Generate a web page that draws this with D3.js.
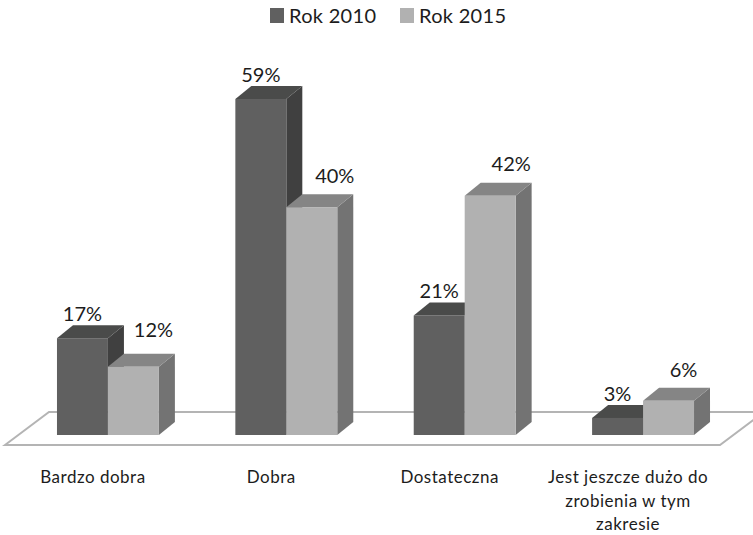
<!DOCTYPE html>
<html>
<head>
<meta charset="utf-8">
<script src="https://cdn.jsdelivr.net/npm/d3@7"></script>
<style>
  html, body { margin: 0; background: #fff; }
  text { font-family: Lato, "Open Sans", sans-serif; fill: #1c1c1c; }
</style>
</head>
<body>
<div id="chart"></div>
<script>
var categories = ["Bardzo dobra", "Dobra", "Dostateczna", "Jest jeszcze dużo do|zrobienia w tym|zakresie"];
var seriesNames = ["Rok 2010", "Rok 2015"];
var rok2010 = [17, 59, 21, 3];
var rok2015 = [12, 40, 42, 6];

var width = 753, height = 535;
var depth = {x: 16, y: 13};
var baseline = 435;

var colors = [
    {front: "#606060", top: "#4a4b4a", side: "#404040"},
    {front: "#b1b1b1", top: "#858585", side: "#737373"}
];

var svg = d3.select("#chart").append("svg")
    .attr("width", width)
    .attr("height", height)
    .style("display", "block");

var x = d3.scaleBand()
    .domain(categories)
    .range([18.75, 732.25])
    .paddingInner(0.4286)
    .paddingOuter(0.2143);

var series = d3.scaleBand()
    .domain(seriesNames)
    .range([0, x.bandwidth()]);

var y = d3.scaleLinear()
    .domain([0, 59])
    .range([baseline, 99]);

// floor
svg.append("polygon")
    .attr("points", [[5, 445], [49, 412], [764, 412], [720, 445]].join(" "))
    .attr("fill", "#fff")
    .attr("stroke", "#b4b4b4")
    .attr("stroke-width", 2);

var rows = [];
categories.forEach(function(c, i) {
    rows.push({cat: c, s: 0, value: rok2010[i]});
    rows.push({cat: c, s: 1, value: rok2015[i]});
});

var bars = svg.append("g").selectAll("g")
    .data(rows)
    .join("g");

function poly(pts) { return pts.join(" "); }
function left(d) { return x(d.cat) + series(seriesNames[d.s]); }
function right(d) { return left(d) + series.bandwidth(); }

bars.append("polygon")
    .attr("fill", function(d) { return colors[d.s].side; })
    .attr("points", function(d) {
        return poly([[right(d), y(d.value)], [right(d) + depth.x, y(d.value) - depth.y],
            [right(d) + depth.x, baseline - depth.y], [right(d), baseline]]);
    });

bars.append("polygon")
    .attr("fill", function(d) { return colors[d.s].top; })
    .attr("points", function(d) {
        return poly([[left(d), y(d.value)], [left(d) + depth.x, y(d.value) - depth.y],
            [right(d) + depth.x, y(d.value) - depth.y], [right(d), y(d.value)]]);
    });

bars.append("rect")
    .attr("fill", function(d) { return colors[d.s].front; })
    .attr("x", left)
    .attr("y", function(d) { return y(d.value); })
    .attr("width", series.bandwidth())
    .attr("height", function(d) { return baseline - y(d.value); });

// labels sit above the bar, the light series shifted off to the right
var nudge2015 = [[20, -30], [23, -24], [21, -25], [15, -24]];

svg.append("g").selectAll("text")
    .data(rows)
    .join("text")
    .attr("text-anchor", "middle")
    .attr("font-size", 20)
    .attr("x", function(d) {
        var c = left(d) + series.bandwidth() / 2;
        return d.s ? c + nudge2015[categories.indexOf(d.cat)][0] : c;
    })
    .attr("y", function(d) {
        var n = d.s ? nudge2015[categories.indexOf(d.cat)][1] : -17;
        return y(d.value) + n;
    })
    .text(function(d) { return d.value + "%"; });

// category labels
svg.append("g").selectAll("text")
    .data(categories)
    .join("text")
    .attr("text-anchor", "middle")
    .attr("font-size", 17)
    .attr("letter-spacing", 0.5)
    .attr("y", 483)
    .each(function(c) {
        var cx = x(c) + x.bandwidth() / 2 - 15;
        d3.select(this).selectAll("tspan")
            .data(c.split("|"))
            .join("tspan")
            .attr("x", cx)
            .attr("dy", function(d, i) { return i ? 23.5 : 0; })
            .text(function(d) { return d; });
    });

// legend
var legendX = [270, 400];
var legend = svg.append("g").selectAll("g")
    .data(seriesNames)
    .join("g")
    .attr("transform", function(d, i) { return "translate(" + legendX[i] + ",0)"; });

legend.append("rect")
    .attr("y", 8)
    .attr("width", 14)
    .attr("height", 15)
    .attr("fill", function(d, i) { return colors[i].front; });

legend.append("text")
    .attr("x", 19)
    .attr("y", 23)
    .attr("font-size", 20)
    .attr("letter-spacing", 0.3)
    .text(function(d) { return d; });
</script>
</body>
</html>
